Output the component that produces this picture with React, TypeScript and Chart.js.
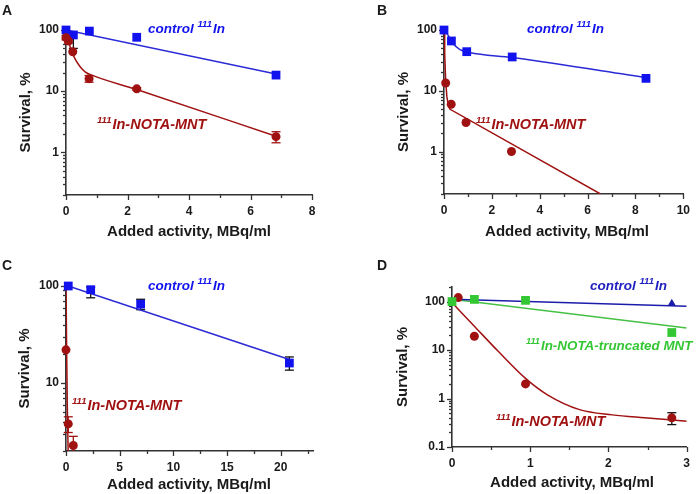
import React, { useEffect, useRef } from 'react';
import { Chart, registerables } from 'chart.js';
Chart.register(...registerables);

const FONT = '"Liberation Sans", Arial, Helvetica, sans-serif';
const AXIS = '#333333';
const TXT = '#1a1a1a';
const BLUE = '#1212ee';
const BLUE_LINE = '#2a2ad6';
const RED = '#a01212';
const GREEN = '#33c733';
const GREEN_LINE = '#45c045';
const NAVY = '#1c1caa';

// ---------------- Panel A ----------------
const aXTicks = [0, 1, 2, 3, 4, 5, 6, 7, 8];
const aXLabels = [0, 2, 4, 6, 8];
const aYTicks = [0.2, 0.3, 0.4, 0.5, 0.6, 0.7, 0.8, 0.9, 1, 2, 3, 4, 5, 6, 7, 8, 9, 10, 20, 30, 40, 50, 60, 70, 80, 90, 100];
const aYLabels = [1, 10, 100];
const aCtrlX = [0, 0.24, 0.76, 2.3, 6.83];
const aCtrlY = [100, 83, 96, 76, 18.3];
const aCtrlLo = [0, 33, 0, 0, 0];
const aCtrlHi = [0, 0, 0, 0, 0];
const aMntX = [0, 0.08, 0.22, 0.75, 2.3, 6.83];
const aMntY = [75, 66, 44, 16, 10.9, 1.8];
const aMntErr = [6, 5, 0, 2, 0.5, 0.37];
const aCtrlFitX = [0, 6.83];
const aCtrlFitY = [100, 19];
const aMntFitX = [0, 0.075, 0.15, 0.29, 0.46, 0.62, 0.84, 2.3, 6.83];
const aMntFitY = [88, 69, 50, 34, 25, 20.7, 18.3, 10.6, 1.83];

// ---------------- Panel B ----------------
const bXTicks = [0, 1, 2, 3, 4, 5, 6, 7, 8, 9, 10];
const bXLabels = [0, 2, 4, 6, 8, 10];
const bYTicks = aYTicks;
const bYLabels = [1, 10, 100];
const bCtrlX = [0, 0.31, 0.95, 2.85, 8.44];
const bCtrlY = [100, 66, 44, 36, 16];
const bMntX = [0.07, 0.3, 0.92, 2.82];
const bMntY = [13.4, 6.0, 3.0, 1.0];
const bCtrlFitX = [0, 0.16, 0.38, 0.65, 1.06, 2.85, 8.44];
const bCtrlFitY = [100, 83, 60, 48, 42.5, 35.2, 16.5];
const bMntFitX = [0, 0.03, 0.07, 0.12, 0.18, 0.24, 6.54];
const bMntFitY = [95, 40, 15, 8, 5.8, 5.0, 0.2];

// ---------------- Panel C ----------------
const cXTicks = [0, 2.5, 5, 7.5, 10, 12.5, 15, 17.5, 20, 22.5];
const cXLabels = [0, 5, 10, 15, 20];
const cYTicks = [2, 3, 4, 5, 6, 7, 8, 9, 10, 20, 30, 40, 50, 60, 70, 80, 90, 100];
const cYLabels = [10, 100];
const cCtrlX = [0.21, 2.3, 6.95, 20.8];
const cCtrlY = [100, 91.6, 65, 16.1];
const cCtrlLo = [0, 16, 8, 2.5];
const cCtrlHi = [0, 6, 8, 2.5];
const cMntX = [0, 0.21, 0.68];
const cMntY = [22, 3.8, 2.28];
const cMntErr = [0, 0.7, 0.55];
const cCtrlFitX = [0.21, 20.8];
const cCtrlFitY = [100, 17.5];
const cMntFitX = [0, 0.03, 0.06, 0.12, 0.2];
const cMntFitY = [100, 50, 22, 6, 2];

// ---------------- Panel D ----------------
const dXTicks = [0, 0.5, 1, 1.5, 2, 2.5, 3];
const dXLabels = [0, 1, 2, 3];
const dYTicks = [0.1, 0.2, 0.3, 0.4, 0.5, 0.6, 0.7, 0.8, 0.9, 1, 2, 3, 4, 5, 6, 7, 8, 9, 10, 20, 30, 40, 50, 60, 70, 80, 90, 100, 200];
const dYLabels = [0.1, 1, 10, 100];
const dCtrlX = [0, 2.81];
const dCtrlY = [100, 91];
const dTrX = [0, 0.286, 0.94, 2.81];
const dTrY = [100, 111, 106, 23];
const dMntX = [0.08, 0.286, 0.94, 2.81];
const dMntY = [121, 19.3, 2.0, 0.4];
const dMntErr = [0, 0, 0, 0.11];
const dCtrlFitX = [0, 3];
const dCtrlFitY = [112, 80];
const dTrFitX = [0, 3];
const dTrFitY = [112, 28.5];
const dMntFitX = [0, 0.14, 0.286, 0.6, 0.94, 1.22, 1.63, 2.05, 2.46, 3.0];
const dMntFitY = [95, 55, 31, 9.1, 2.6, 1.19, 0.59, 0.46, 0.4, 0.34];

type Series = { x: number[]; y: number[]; lo?: number[]; hi?: number[]; color: string; bar: string; style: string; r: number };
type Fit = { x: number[]; y: number[]; color: string; w: number; smooth: boolean };
type Label = { parts: [string, boolean][]; x: number; y: number; color: string; size: number; sup: number };
type Spec = {
  letter: string; left: number; top: number; width: number; height: number;
  area: { l: number; t: number; r: number; b: number };
  xMin: number; xMax: number; xTicks: number[]; xLabels: number[];
  yMin: number; yMax: number; yTicks: number[]; yLabels: number[];
  series: Series[]; fits: Fit[]; labels: Label[];
  letterPos: [number, number]; xTitle: [number, number]; yTitleX: number;
};

const ctrlParts: [string, boolean][] = [['control ', false], ['111', true], ['In', false]];
const mntParts: [string, boolean][] = [['111', true], ['In-NOTA-MNT', false]];
const trParts: [string, boolean][] = [['111', true], ['In-NOTA-truncated MNT', false]];

const SQ = 6.2;
const CI = 4.5;

const panels: Spec[] = [
  {
    letter: 'A', left: 0, top: 0, width: 350, height: 247,
    area: { l: 66, t: 30, r: 312, b: 195 },
    xMin: 0, xMax: 8, xTicks: aXTicks, xLabels: aXLabels,
    yMin: 0.2, yMax: 100, yTicks: aYTicks, yLabels: aYLabels,
    series: [
      { x: aMntX, y: aMntY, lo: aMntErr, hi: aMntErr, color: RED, bar: RED, style: 'circle', r: CI },
      { x: aCtrlX, y: aCtrlY, lo: aCtrlLo, hi: aCtrlHi, color: BLUE, bar: '#111', style: 'rect', r: SQ },
    ],
    fits: [
      { x: aCtrlFitX, y: aCtrlFitY, color: BLUE_LINE, w: 1.5, smooth: false },
      { x: aMntFitX, y: aMntFitY, color: RED, w: 1.5, smooth: true },
    ],
    labels: [
      { parts: ctrlParts, x: 148, y: 33, color: BLUE, size: 13.5, sup: 9.5 },
      { parts: mntParts, x: 97, y: 129, color: RED, size: 14.5, sup: 9.5 },
    ],
    letterPos: [2, 4], xTitle: [189, 236], yTitleX: 26,
  },
  {
    letter: 'B', left: 350, top: 0, width: 349, height: 247,
    area: { l: 94, t: 30, r: 340, b: 194 },
    xMin: 0, xMax: 10, xTicks: bXTicks, xLabels: bXLabels,
    yMin: 0.2, yMax: 100, yTicks: bYTicks, yLabels: bYLabels,
    series: [
      { x: bMntX, y: bMntY, color: RED, bar: RED, style: 'circle', r: CI },
      { x: bCtrlX, y: bCtrlY, color: BLUE, bar: '#111', style: 'rect', r: SQ },
    ],
    fits: [
      { x: bCtrlFitX, y: bCtrlFitY, color: BLUE_LINE, w: 1.5, smooth: true },
      { x: bMntFitX, y: bMntFitY, color: RED, w: 1.5, smooth: false },
    ],
    labels: [
      { parts: ctrlParts, x: 177, y: 33, color: BLUE, size: 13.5, sup: 9.5 },
      { parts: mntParts, x: 126, y: 129, color: RED, size: 14.5, sup: 9.5 },
    ],
    letterPos: [27, 4], xTitle: [217, 236], yTitleX: 54,
  },
  {
    letter: 'C', left: 0, top: 247, width: 350, height: 247,
    area: { l: 66, t: 39, r: 313, b: 204 },
    xMin: 0, xMax: 23, xTicks: cXTicks, xLabels: cXLabels,
    yMin: 2, yMax: 100, yTicks: cYTicks, yLabels: cYLabels,
    series: [
      { x: cMntX, y: cMntY, lo: cMntErr, hi: cMntErr, color: RED, bar: RED, style: 'circle', r: CI },
      { x: cCtrlX, y: cCtrlY, lo: cCtrlLo, hi: cCtrlHi, color: BLUE, bar: '#111', style: 'rect', r: SQ },
    ],
    fits: [
      { x: cCtrlFitX, y: cCtrlFitY, color: BLUE_LINE, w: 1.5, smooth: false },
      { x: cMntFitX, y: cMntFitY, color: RED, w: 1.5, smooth: true },
    ],
    labels: [
      { parts: ctrlParts, x: 148, y: 43, color: BLUE, size: 13.5, sup: 9.5 },
      { parts: mntParts, x: 72, y: 163, color: RED, size: 14.5, sup: 9.5 },
    ],
    letterPos: [2, 12], xTitle: [189, 242], yTitleX: 25,
  },
  {
    letter: 'D', left: 350, top: 247, width: 349, height: 247,
    area: { l: 102, t: 40, r: 343, b: 200 },
    xMin: 0, xMax: 3, xTicks: dXTicks, xLabels: dXLabels,
    yMin: 0.1, yMax: 200, yTicks: dYTicks, yLabels: dYLabels,
    series: [
      { x: dTrX, y: dTrY, color: GREEN, bar: GREEN, style: 'rect', r: SQ },
      { x: dMntX, y: dMntY, lo: dMntErr, hi: dMntErr, color: RED, bar: '#111', style: 'circle', r: CI },
      { x: dCtrlX, y: dCtrlY, color: NAVY, bar: NAVY, style: 'triangle', r: 4.8 },
    ],
    fits: [
      { x: dCtrlFitX, y: dCtrlFitY, color: NAVY, w: 1.5, smooth: false },
      { x: dTrFitX, y: dTrFitY, color: GREEN_LINE, w: 1.5, smooth: false },
      { x: dMntFitX, y: dMntFitY, color: RED, w: 1.5, smooth: true },
    ],
    labels: [
      { parts: ctrlParts, x: 240, y: 43, color: '#2020c0', size: 13.5, sup: 9.5 },
      { parts: trParts, x: 176, y: 103, color: GREEN, size: 13.4, sup: 9.2 },
      { parts: mntParts, x: 146, y: 179, color: RED, size: 14.5, sup: 9.5 },
    ],
    letterPos: [27, 12], xTitle: [222, 240], yTitleX: 53,
  },
];

function line(ctx: CanvasRenderingContext2D, x1: number, y1: number, x2: number, y2: number) {
  ctx.beginPath();
  ctx.moveTo(x1, y1);
  ctx.lineTo(x2, y2);
  ctx.stroke();
}

function buildConfig(s: Spec): any {
  const datasets: any[] = [];
  s.series.forEach((se) =>
    datasets.push({
      data: se.x.map((x, i) => ({ x, y: se.y[i] })),
      showLine: false,
      pointStyle: se.style,
      pointRadius: se.r,
      pointBackgroundColor: se.color,
      pointBorderColor: se.color,
      pointBorderWidth: 0,
      clip: false,
    })
  );
  s.fits.forEach((f) =>
    datasets.push({
      data: f.x.map((x, i) => ({ x, y: f.y[i] })),
      showLine: true,
      pointRadius: 0,
      borderColor: f.color,
      borderWidth: f.w,
      cubicInterpolationMode: f.smooth ? 'monotone' : 'default',
      tension: 0,
      fill: false,
    })
  );

  const decor = {
    id: 'decor' + s.letter,
    beforeDatasetsDraw(chart: any) {
      const ctx: CanvasRenderingContext2D = chart.ctx;
      const xs = chart.scales.x;
      const ys = chart.scales.y;
      const ca = chart.chartArea;
      ctx.save();
      ctx.strokeStyle = AXIS;
      ctx.lineWidth = 1.3;
      s.xTicks.forEach((v) => {
        const px = Math.round(xs.getPixelForValue(v)) + 0.5;
        const len = s.xLabels.includes(v) ? 5 : 3;
        line(ctx, px, ca.bottom, px, ca.bottom + len);
      });
      s.yTicks.forEach((v) => {
        const py = Math.round(ys.getPixelForValue(v)) + 0.5;
        const len = s.yLabels.includes(v) ? 5 : 3;
        line(ctx, ca.left - len, py, ca.left, py);
      });
      // error bars
      ctx.beginPath();
      ctx.rect(0, 0, chart.width, ca.bottom);
      ctx.clip();
      ctx.lineWidth = 1.3;
      s.series.forEach((se) => {
        if (!se.lo && !se.hi) return;
        ctx.strokeStyle = se.bar;
        se.x.forEach((x, i) => {
          const lo = se.lo ? se.lo[i] : 0;
          const hi = se.hi ? se.hi[i] : 0;
          if (!lo && !hi) return;
          const px = xs.getPixelForValue(x);
          const y0 = ys.getPixelForValue(se.y[i]);
          const y1 = lo ? ys.getPixelForValue(Math.max(se.y[i] - lo, s.yMin * 0.3)) : y0;
          const y2 = hi ? ys.getPixelForValue(se.y[i] + hi) : y0;
          line(ctx, px, y1, px, y2);
          if (lo) line(ctx, px - 4.5, y1, px + 4.5, y1);
          if (hi) line(ctx, px - 4.5, y2, px + 4.5, y2);
        });
      });
      ctx.restore();
    },
    afterDraw(chart: any) {
      const ctx: CanvasRenderingContext2D = chart.ctx;
      const ca = chart.chartArea;
      ctx.save();
      // annotation labels
      s.labels.forEach((lb) => {
        let cx = lb.x;
        ctx.fillStyle = lb.color;
        ctx.textAlign = 'left';
        ctx.textBaseline = 'alphabetic';
        lb.parts.forEach(([t, sup]) => {
          const fs = sup ? lb.sup : lb.size;
          ctx.font = `italic bold ${fs}px ${FONT}`;
          ctx.fillText(t, cx, sup ? lb.y - lb.size * 0.42 : lb.y);
          cx += ctx.measureText(t).width + (sup ? 1 : 0);
        });
      });
      // axis titles
      ctx.fillStyle = TXT;
      ctx.font = `bold 15px ${FONT}`;
      ctx.textAlign = 'center';
      ctx.textBaseline = 'alphabetic';
      ctx.fillText('Added activity, MBq/ml', s.xTitle[0], s.xTitle[1]);
      ctx.save();
      ctx.translate(s.yTitleX, (ca.top + ca.bottom) / 2);
      ctx.rotate(-Math.PI / 2);
      ctx.textBaseline = 'middle';
      ctx.fillText('Survival, %', 0, 0);
      ctx.restore();
      // panel letter
      ctx.font = `bold 14px ${FONT}`;
      ctx.textAlign = 'left';
      ctx.textBaseline = 'top';
      ctx.fillText(s.letter, s.letterPos[0], s.letterPos[1]);
      ctx.restore();
    },
  };

  const tickFont = { family: FONT, size: 12, weight: 'bold' as const };
  return {
    type: 'scatter',
    data: { datasets },
    options: {
      responsive: false,
      animation: false,
      events: [],
      layout: { padding: { left: 0, top: s.area.t, right: s.width - s.area.r, bottom: 0 } },
      plugins: { legend: { display: false }, tooltip: { enabled: false } },
      scales: {
        x: {
          type: 'linear',
          min: s.xMin,
          max: s.xMax,
          grid: { display: false, drawTicks: false, tickLength: 0 },
          border: { display: true, color: AXIS, width: 1.6 },
          ticks: {
            autoSkip: false,
            maxRotation: 0,
            padding: 9,
            color: TXT,
            font: tickFont,
            callback: (v: number) => (s.xLabels.includes(v) ? String(v) : ''),
          },
          afterBuildTicks: (sc: any) => {
            sc.ticks = s.xTicks.map((v) => ({ value: v }));
          },
          afterFit: (sc: any) => {
            sc.height = s.height - s.area.b;
          },
        },
        y: {
          type: 'logarithmic',
          min: s.yMin,
          max: s.yMax,
          grid: { display: false, drawTicks: false, tickLength: 0 },
          border: { display: true, color: AXIS, width: 1.6 },
          ticks: {
            autoSkip: false,
            padding: 7,
            color: TXT,
            font: tickFont,
            callback: (v: number) => (s.yLabels.includes(v) ? String(v) : ''),
          },
          afterBuildTicks: (sc: any) => {
            sc.ticks = s.yTicks.map((v) => ({ value: v }));
          },
          afterFit: (sc: any) => {
            sc.width = s.area.l;
          },
        },
      },
    },
    plugins: [decor],
  };
}

function Panel({ spec }: { spec: Spec }) {
  const ref = useRef<HTMLCanvasElement>(null);
  useEffect(() => {
    const chart = new Chart(ref.current as HTMLCanvasElement, buildConfig(spec));
    return () => chart.destroy();
  }, [spec]);
  return (
    <canvas
      ref={ref}
      width={spec.width}
      height={spec.height}
      style={{ position: 'absolute', left: spec.left, top: spec.top, width: spec.width, height: spec.height }}
    />
  );
}

export default function App() {
  return (
    <div style={{ position: 'absolute', left: 0, top: 0, width: 699, height: 494, background: '#ffffff' }}>
      {panels.map((p) => (
        <Panel key={p.letter} spec={p} />
      ))}
    </div>
  );
}
